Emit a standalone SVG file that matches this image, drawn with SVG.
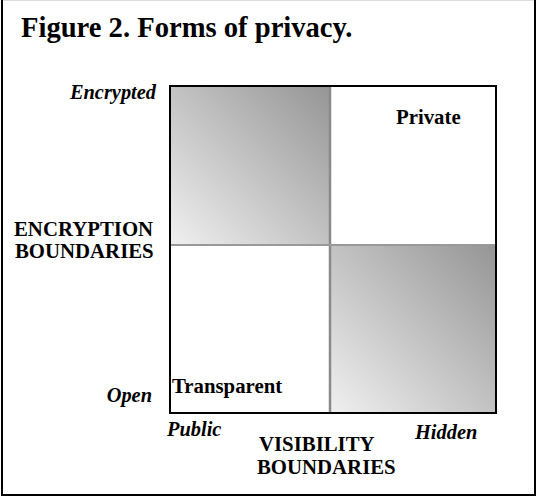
<svg xmlns="http://www.w3.org/2000/svg" width="537" height="497" viewBox="0 0 537 497">
<defs>
<linearGradient id="g" x1="0" y1="1" x2="1" y2="0">
<stop offset="0" stop-color="#f0f0f0"/>
<stop offset="1" stop-color="#959595"/>
</linearGradient>
<style>
text{font-family:"Liberation Serif","Times New Roman",serif;font-weight:bold;fill:#000}
.t{font-size:28.6px}
.l{font-size:20.8px}
.i{font-size:20.4px;font-style:italic}
</style>
</defs>
<rect x="0" y="0" width="537" height="497" fill="#fff"/>
<g id="frame">
<line x1="2" y1="0.5" x2="535" y2="0.5" stroke="#ddd" stroke-width="1"/>
<line x1="2" y1="0" x2="2" y2="496" stroke="#000" stroke-width="2"/>
<line x1="535" y1="0" x2="535" y2="496" stroke="#000" stroke-width="2"/>
<line x1="1" y1="495" x2="536" y2="495" stroke="#000" stroke-width="2"/>
</g>
<text id="title" class="t" x="21" y="37">Figure 2. Forms of privacy.</text>
<g id="grid">
<rect x="170" y="86" width="160" height="159" fill="url(#g)"/>
<rect x="330" y="245" width="166" height="168" fill="url(#g)"/>
<line x1="330" y1="86" x2="330" y2="413" stroke="#8a8a8a" stroke-width="2.5"/>
<line x1="170" y1="245" x2="496" y2="245" stroke="#999" stroke-width="2"/>
<rect x="170" y="86" width="326" height="327" fill="none" stroke="#000" stroke-width="2"/>
</g>
<g id="labels">
<text class="i" x="156" y="99" text-anchor="end">Encrypted</text>
<text class="i" x="152" y="402" text-anchor="end">Open</text>
<text class="i" x="167" y="436">Public</text>
<text class="i" x="415" y="439">Hidden</text>
<text class="l" x="396" y="124">Private</text>
<text class="l" x="172" y="393">Transparent</text>
<text class="l" x="14" y="236">ENCRYPTION</text>
<text class="l" x="15" y="258">BOUNDARIES</text>
<text class="l" x="259" y="451">VISIBILITY</text>
<text class="l" x="257" y="474">BOUNDARIES</text>
</g>
</svg>
